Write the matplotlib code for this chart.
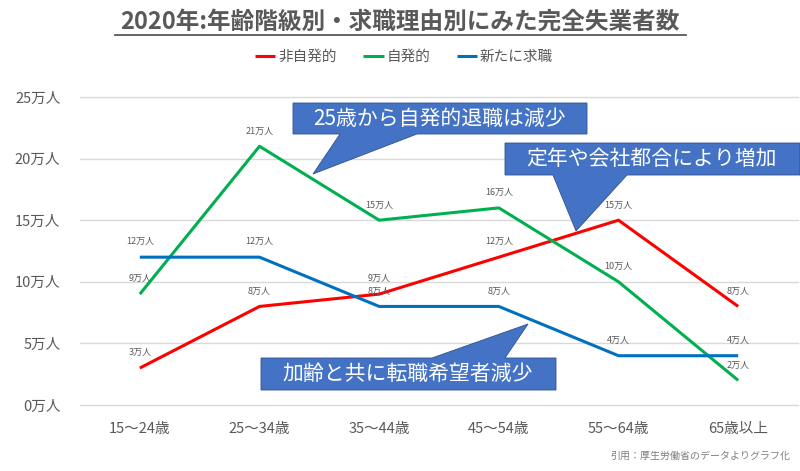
import matplotlib.pyplot as plt
from matplotlib.patches import Polygon
from matplotlib.lines import Line2D

plt.rcParams['font.family'] = ['Noto Sans CJK JP', 'DejaVu Sans']

# data (万人)
ages = ["15～24歳", "25～34歳", "35～44歳", "45～54歳", "55～64歳", "65歳以上"]
involuntary = [3, 8, 9, 12, 15, 8]     # 非自発的
voluntary = [9, 21, 15, 16, 10, 2]     # 自発的
new_seekers = [12, 12, 8, 8, 4, 4]     # 新たに求職
yticks = [0, 5, 10, 15, 20, 25]

series = [
    ("非自発的", involuntary, "#FF0000"),
    ("自発的", voluntary, "#00B050"),
    ("新たに求職", new_seekers, "#0070C0"),
]

W, H = 800, 471
fig = plt.figure(figsize=(W / 100, H / 100), dpi=100)
ax = fig.add_axes([80 / W, 1 - 405 / H, 718 / W, 308 / H])

x = list(range(len(ages)))
for name, vals, col in series:
    ax.plot(x, vals, color=col, lw=2.2, label=name, solid_capstyle="butt")
    for xi, v in zip(x, vals):
        ax.annotate(f"{v}万人", (xi, v), xytext=(0, 11), textcoords="offset points",
                    ha="center", va="center", fontsize=6.5, color="#595959")

ax.set_xlim(-0.5, len(ages) - 0.5)
ax.set_ylim(0, 25)
ax.set_yticks(yticks)
ax.set_yticklabels([f"{t}万人" for t in yticks])
ax.set_xticks(x)
ax.set_xticklabels(ages)
ax.tick_params(length=0, labelsize=10.5, labelcolor="#595959")
ax.tick_params(axis="y", pad=14)
ax.tick_params(axis="x", pad=12)
for s in ax.spines.values():
    s.set_visible(False)
for t in yticks:
    ax.axhline(t, color="#D9D9D9", lw=1, zorder=0, clip_on=False)

# title with underline
fig.text(0.5, 1 - 22 / H, "2020年:年齢階級別・求職理由別にみた完全失業者数",
         ha="center", va="center", fontsize=17, fontweight="bold", color="#595959")
fig.add_artist(Line2D([115 / W, 686 / W], [1 - 35 / H, 1 - 35 / H],
                      transform=fig.transFigure, color="#595959", lw=1.3))

fig.legend(loc="center", bbox_to_anchor=(0.505, 1 - 57 / H), ncol=3, frameon=False,
           fontsize=10.5, labelcolor="#595959", handlelength=1.4, handletextpad=0.2,
           columnspacing=1.8)


def px(pts):
    return [(a / W, 1 - b / H) for a, b in pts]


callouts = [
    ([(293, 103), (587, 103), (587, 134), (417, 134), (313, 174), (340, 134), (293, 134)],
     (440, 118.5), "25歳から自発的退職は減少"),
    ([(505, 143), (800, 143), (800, 175), (627, 175), (576, 231), (553, 175), (505, 175)],
     (652, 159), "定年や会社都合により増加"),
    ([(261, 358), (432, 358), (528, 324), (505, 358), (556, 358), (556, 390), (261, 390)],
     (408, 374), "加齢と共に転職希望者減少"),
]
for pts, (tx, ty), txt in callouts:
    fig.add_artist(Polygon(px(pts), closed=True, transform=fig.transFigure,
                           facecolor="#4472C4", edgecolor="#2F528F", lw=0.6))
    fig.text(tx / W, 1 - ty / H, txt, ha="center", va="center", fontsize=15, color="white")

fig.text(790 / W, 1 - 456 / H, "引用：厚生労働省のデータよりグラフ化",
         ha="right", va="center", fontsize=7.2, color="#7F7F7F")

fig.savefig("out.png", dpi=100)
